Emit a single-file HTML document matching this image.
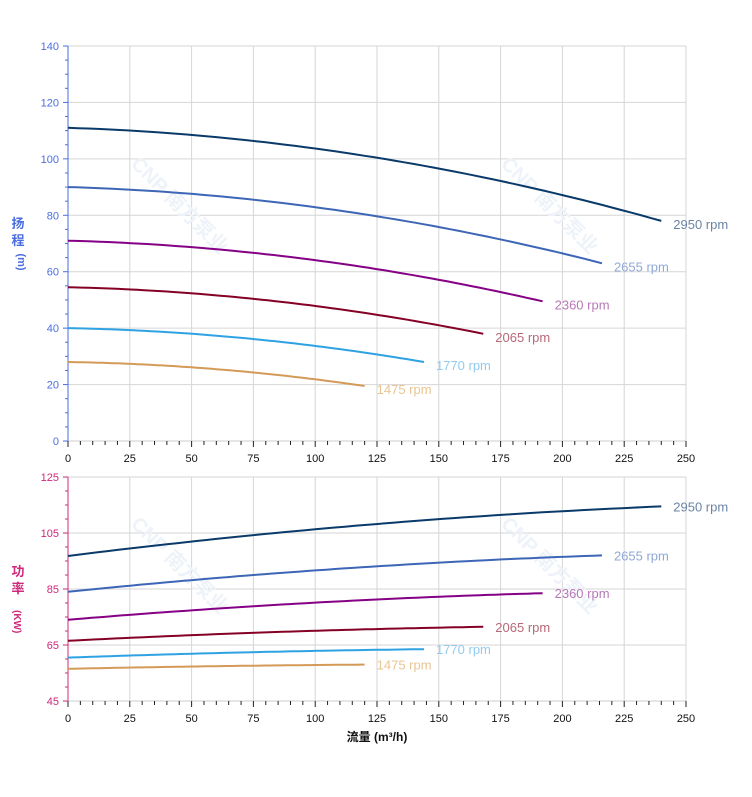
<!DOCTYPE html>
<html><head><meta charset="utf-8"><style>
body{margin:0;background:#fff;width:752px;height:797px;overflow:hidden}
svg{display:block;font-family:"Liberation Sans","Noto Sans CJK SC",sans-serif}
</style></head><body>
<svg id="s" width="752" height="797" xmlns="http://www.w3.org/2000/svg"></svg>
<script>
const s=document.getElementById('s');let h='';
const X=q=>68+q*618/250;
const YT=v=>441-v*395/140;
const YB=v=>701-(v-45)*224/80;
function grid(y0,y1,vals,Y){
  for(let q=0;q<=250;q+=25)h+=`<line x1="${X(q)}" y1="${y0}" x2="${X(q)}" y2="${y1}" stroke="#d6d6d6" stroke-width="1"/>`;
  vals.forEach(v=>h+=`<line x1="68" y1="${Y(v)}" x2="686" y2="${Y(v)}" stroke="#d6d6d6"/>`);
}
grid(46,441,[0,20,40,60,80,100,120,140],YT);
grid(477,701,[45,65,85,105,125],YB);
function axis(y0,y1,col,ticks,minor,Y,yb){
  h+=`<line x1="68" y1="${y0}" x2="68" y2="${y1}" stroke="${col}"/>`;
  ticks.forEach(v=>{h+=`<line x1="63" y1="${Y(v)}" x2="68" y2="${Y(v)}" stroke="${col}"/><text x="59" y="${Y(v)+4}" font-size="11" fill="${col}" text-anchor="end">${v}</text>`});
  minor.forEach(v=>h+=`<line x1="65" y1="${Y(v)}" x2="68" y2="${Y(v)}" stroke="${col}"/>`);
  h+=`<line x1="68" y1="${yb}" x2="686" y2="${yb}" stroke="#ccc"/>`;
  for(let q=0;q<=250;q+=5){let m=q%25==0;h+=`<line x1="${X(q)}" y1="${yb}" x2="${X(q)}" y2="${yb+(m?6:4)}" stroke="#222"/>`;if(m)h+=`<text x="${X(q)}" y="${yb+21}" font-size="11" fill="#111" text-anchor="middle">${q}</text>`}
}
let mt=[],mb=[];
for(let v=5;v<140;v+=5)if(v%20)mt.push(v);
for(let v=50;v<125;v+=5)if((v-45)%20)mb.push(v);
axis(46,441,'#4a6ee0',[0,20,40,60,80,100,120,140],mt,YT,441);
axis(477,701,'#d0287a',[45,65,85,105,125],mb,YB,701);
[[175,210],[545,210],[175,570],[545,570]].forEach(([x,y])=>h+=`<text x="${x}" y="${y}" font-size="20" font-weight="bold" fill="#eef3f9" transform="rotate(45 ${x} ${y})" text-anchor="middle">CNP 南方泵业</text>`);
const S=[
 {qm:240,h0:111,h1:78,p0:96.8,p1:114.5,c:'#0a3a6a',l:'#6c84a4',n:'2950'},
 {qm:216,h0:90,h1:63,p0:84,p1:97,c:'#3e66b6',l:'#90a8d8',n:'2655'},
 {qm:192,h0:71,h1:49.5,p0:74,p1:83.5,c:'#850085',l:'#b879b8',n:'2360'},
 {qm:168,h0:54.5,h1:38,p0:66.5,p1:71.5,c:'#850025',l:'#b86878',n:'2065'},
 {qm:144,h0:40,h1:28,p0:60.5,p1:63.5,c:'#2ea2e2',l:'#92cbef',n:'1770'},
 {qm:120,h0:28,h1:19.5,p0:56.5,p1:58,c:'#d39a58',l:'#e9c592',n:'1475'}];
S.forEach(o=>{
  let a='',b='';
  for(let i=0;i<=60;i++){let t=i/60,q=o.qm*t;
    let H=o.h0-(o.h0-o.h1)*(0.2*t+0.8*t*t), P=o.p0+(o.p1-o.p0)*(1.5*t-0.5*t*t);
    a+=(i?'L':'M')+X(q).toFixed(1)+' '+YT(H).toFixed(1);
    b+=(i?'L':'M')+X(q).toFixed(1)+' '+YB(P).toFixed(1);}
  h+=`<path d="${a}" fill="none" stroke="${o.c}" stroke-width="2"/><path d="${b}" fill="none" stroke="${o.c}" stroke-width="2"/>`;
  h+=`<text x="${X(o.qm)+12}" y="${YT(o.h1)+8}" font-size="13" fill="${o.l}">${o.n} rpm</text>`;
  h+=`<text x="${X(o.qm)+12}" y="${YB(o.p1)+5}" font-size="13" fill="${o.l}">${o.n} rpm</text>`;
});
h+=`<text x="18" y="228" font-size="13" font-weight="bold" fill="#4a6ee0" text-anchor="middle">扬</text><text x="18" y="245" font-size="13" font-weight="bold" fill="#4a6ee0" text-anchor="middle">程</text><text x="18" y="262" font-size="11" font-weight="bold" fill="#4a6ee0" text-anchor="middle" transform="rotate(90 18 262)">(m)</text>`;
h+=`<text x="18" y="576" font-size="13" font-weight="bold" fill="#d0287a" text-anchor="middle">功</text><text x="18" y="593" font-size="13" font-weight="bold" fill="#d0287a" text-anchor="middle">率</text><text x="14" y="610" font-size="10" font-weight="bold" fill="#d0287a" transform="rotate(90 14 610)">(KW)</text>`;
h+=`<text x="377" y="741" font-size="12" font-weight="bold" fill="#111" text-anchor="middle">流量 (m³/h)</text>`;
s.innerHTML=h;
</script>
</body></html>
